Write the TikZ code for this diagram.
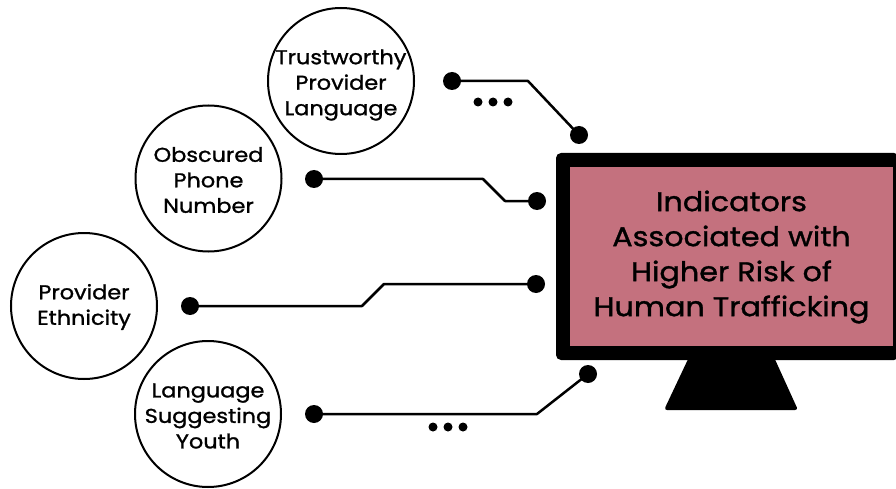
\documentclass[tikz,border=0pt]{standalone}
\usepackage{fontspec}
\setmainfont{Poppins}[FakeStretch=1.12,FakeBold=1.2]
\definecolor{screenpink}{RGB}{196,113,126}
\begin{document}
\begin{tikzpicture}[x=1pt,y=-1pt,
  bubble/.style={draw=black,line width=2pt,circle,inner sep=0pt,minimum size=146pt},
  btext/.style={align=center,font=\fontsize{20}{25.5}\selectfont},
  pin/.style={circle,fill=black,minimum size=18pt,inner sep=0pt},
  wire/.style={line width=2.5pt,line join=round},
  smalldot/.style={circle,fill=black,minimum size=9pt,inner sep=0pt}]
\useasboundingbox (0,0) rectangle (896,489);
% monitor
\fill[black,rounded corners=5pt] (556,153) rectangle (899,360);
\fill[screenpink] (570,167) rectangle (893,346);
\fill[black,rounded corners=3pt] (690,355) -- (773,355) -- (798,410) -- (664,410) -- cycle;
\node[align=center,font=\fontsize{27}{35}\selectfont] (title) at (731.5,257)
  {Indicators\\Associated with\\Higher Risk of\\Human Trafficking};
% bubbles
\node[bubble] (c1) at (341,81) {};
\node[btext] at (341,85) {Trustworthy\\Provider\\Language};
\node[bubble] (c2) at (208.5,178.5) {};
\node[btext] at (208.5,180) {Obscured\\Phone\\Number};
\node[bubble] (c3) at (84,306) {};
\node[btext] at (84,307) {Provider\\Ethnicity};
\node[bubble] (c4) at (208,414) {};
\node[btext] at (208,416) {Language\\Suggesting\\Youth};
% pins
\node[pin] (a1) at (452,81) {};
\node[pin] (a2) at (579,135) {};
\node[pin] (b1) at (314,179) {};
\node[pin] (b2) at (537,201) {};
\node[pin] (d1) at (190,306) {};
\node[pin] (d2) at (536,284) {};
\node[pin] (e1) at (314,414) {};
\node[pin] (e2) at (588,374) {};
% wires
\coordinate (a3) at (528,81);
\draw[wire] (a1.center) -- (a3) -- (a2.center);
\coordinate (b3) at (483,179);
\coordinate (b4) at (505,201);
\draw[wire] (b1.center) -- (b3) -- (b4) -- (b2.center);
\coordinate (d3) at (362,306);
\coordinate (d4) at (384,284);
\draw[wire] (d1.center) -- (d3) -- (d4) -- (d2.center);
\coordinate (e3) at (537,414);
\draw[wire] (e1.center) -- (e3) -- (e2.center);
% ellipsis dots
\node[smalldot] (p1) at (478,102) {};
\node[smalldot] (p2) at (493,102) {};
\node[smalldot] (p3) at (508,102) {};
\node[smalldot] (q1) at (433,427) {};
\node[smalldot] (q2) at (448,427) {};
\node[smalldot] (q3) at (463,427) {};
\end{tikzpicture}
\end{document}
